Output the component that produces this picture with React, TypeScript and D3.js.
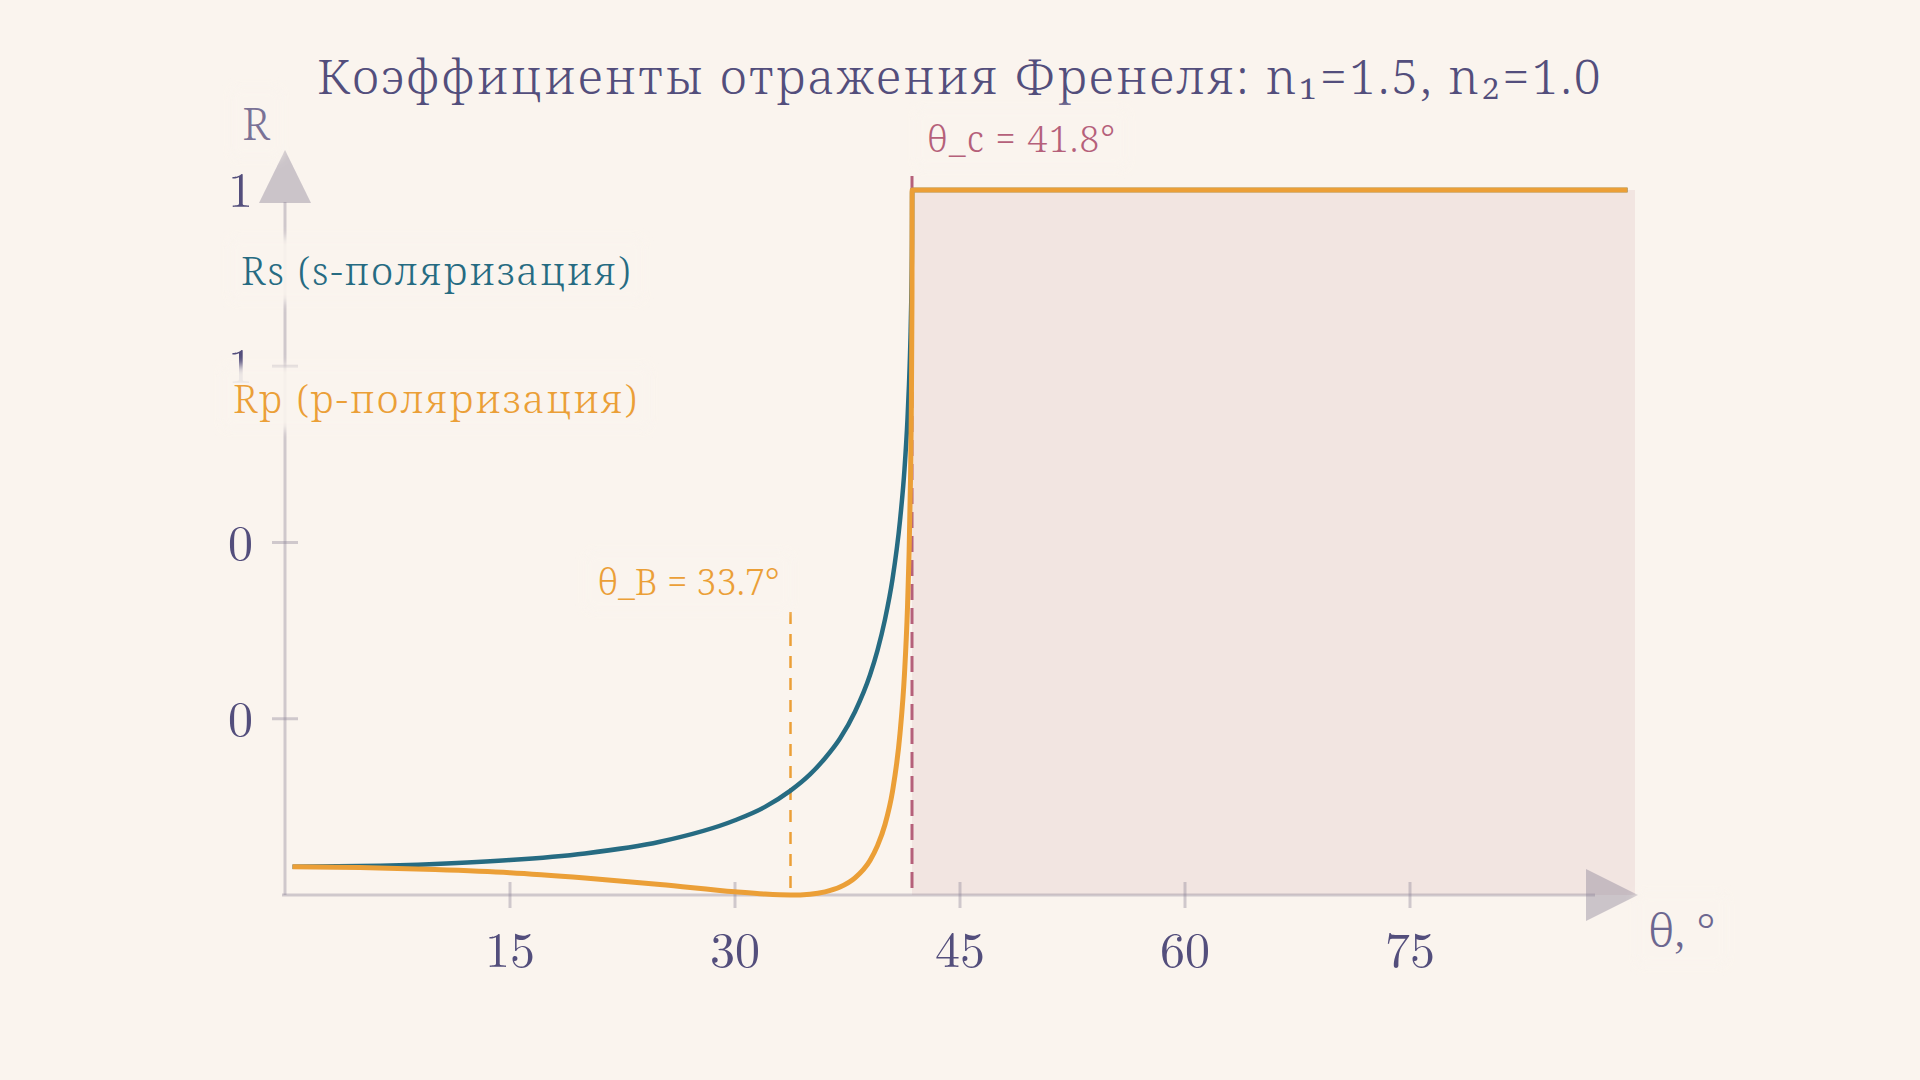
import { useLayoutEffect, useRef, useState } from 'react';
import * as d3 from 'd3';

// incidence angle, degrees
const angles = [
  0.5, 5, 10, 15, 20, 25, 30, 32, 33.7, 35, 36, 37, 38, 39, 39.5, 40, 40.5, 41,
  41.3, 41.5, 41.6, 41.7, 41.75, 41.8, 41.81, 60, 89.5,
];
// s-polarisation reflectance
const rsValues = [
  0.04, 0.041, 0.044, 0.0495, 0.059, 0.0755, 0.106, 0.125, 0.148, 0.171, 0.194,
  0.222, 0.26, 0.312, 0.347, 0.391, 0.448, 0.531, 0.604, 0.675, 0.724, 0.791,
  0.841, 0.93, 1, 1, 1,
];
// p-polarisation reflectance
const rpValues = [
  0.04, 0.039, 0.036, 0.0315, 0.024, 0.015, 0.0046, 0.0013, 0, 0.0012, 0.0045,
  0.0113, 0.0243, 0.049, 0.07, 0.1, 0.147, 0.229, 0.314, 0.408, 0.48, 0.589,
  0.676, 0.85, 1, 1, 1,
];

const xTicks = [15, 30, 45, 60, 75];
const yTicks = [0.25, 0.5, 0.75, 1];
const yTickLabels = ['0', '0', '1', '1'];

const brewsterAngle = 33.7;
const criticalAngle = 41.8;

const title = 'Коэффициенты отражения Френеля: n₁=1.5, n₂=1.0';

const BG = '#faf4ee';
const INK = '#534e7c';
const TEAL = '#266b82';
const ORANGE = '#eb9f37';
const ROSE = '#b5607a';
const SERIF = '"Noto Serif", "DejaVu Serif", serif';
const MATH = '"Latin Modern Roman", "CMU Serif", "Computer Modern", "Noto Serif", serif';

type HaloTextProps = {
  x: number;
  y: number;
  anchor?: 'start' | 'middle' | 'end';
  size: number;
  fill: string;
  spacing?: number;
  children: string;
};

const HaloText = ({ x, y, anchor = 'start', size, fill, spacing = 0, children }: HaloTextProps) => {
  const ref = useRef<SVGTextElement>(null);
  const [box, setBox] = useState<DOMRect | null>(null);

  useLayoutEffect(() => {
    if (ref.current) setBox(ref.current.getBBox());
  }, [children, x, y, size]);

  return (
    <g>
      {box && (
        <rect
          x={box.x - 12}
          y={box.y - 6}
          width={box.width + 24}
          height={box.height + 12}
          rx={8}
          fill={BG}
          opacity={0.92}
          filter="url(#soft)"
        />
      )}
      <text
        ref={ref}
        x={x}
        y={y}
        textAnchor={anchor}
        fontSize={size}
        fontWeight={350}
        letterSpacing={spacing}
        fill={fill}
        fontFamily={SERIF}
      >
        {children}
      </text>
    </g>
  );
};

export default function App() {
  const width = 1920;
  const height = 1080;

  const x = d3.scaleLinear().domain([0, 90]).range([285, 1635]);
  const y = d3.scaleLinear().domain([0, 1]).range([895, 190]);

  const line = d3
    .line<number>()
    .x((_, i) => x(angles[i]))
    .y((d) => y(d))
    .curve(d3.curveMonotoneX);

  const x0 = x(0);
  const y0 = y(0);

  return (
    <svg
      width={width}
      height={height}
      style={{ position: 'absolute', left: 0, top: 0, display: 'block' }}
    >
      <defs>
        <filter id="soft" x="-20%" y="-40%" width="140%" height="180%">
          <feGaussianBlur stdDeviation={5} />
        </filter>
      </defs>
      <rect width={width} height={height} fill={BG} />

      {/* total internal reflection zone */}
      <rect
        x={x(criticalAngle)}
        y={y(1)}
        width={x(90) - x(criticalAngle)}
        height={y0 - y(1)}
        fill={ROSE}
        opacity={0.1}
      />

      {/* axes */}
      <g stroke="#8a8096" strokeOpacity={0.38} strokeWidth={3}>
        <line x1={x0 - 3} x2={x(90) - 40} y1={y0} y2={y0} />
        <line x1={x0} x2={x0} y1={y0} y2={y(1) + 12} />
        {xTicks.map((t) => (
          <line key={t} x1={x(t)} x2={x(t)} y1={y0 - 13} y2={y0 + 13} />
        ))}
        {yTicks
          .filter((t) => t < 1)
          .map((t) => (
            <line key={t} x1={x0 - 13} x2={x0 + 13} y1={y(t)} y2={y(t)} />
          ))}
      </g>
      <g fill="#8a8096" fillOpacity={0.42}>
        <path
          d={`M${x(90) + 3},${y0} L${x(90) - 49},${y0 - 26} L${x(90) - 49},${y0 + 26} Z`}
        />
        <path
          d={`M${x0},${y(1) - 40} L${x0 - 26},${y(1) + 13} L${x0 + 26},${y(1) + 13} Z`}
        />
      </g>

      {xTicks.map((t) => (
        <text
          key={t}
          x={x(t)}
          y={967}
          textAnchor="middle"
          fontSize={50}
          fill={INK}
          fontFamily={MATH}
        >
          {t}
        </text>
      ))}
      {yTicks.map((t, i) => (
        <text
          key={t}
          x={253}
          y={y(t) + 17}
          textAnchor="end"
          fontSize={50}
          fill={INK}
          fontFamily={MATH}
        >
          {yTickLabels[i]}
        </text>
      ))}

      {/* Brewster and critical angle markers */}
      <line
        x1={x(brewsterAngle)}
        x2={x(brewsterAngle)}
        y1={612}
        y2={y0}
        stroke={ORANGE}
        strokeWidth={2.5}
        strokeDasharray="12 10"
      />
      <line
        x1={x(criticalAngle)}
        x2={x(criticalAngle)}
        y1={176}
        y2={y0}
        stroke={ROSE}
        strokeWidth={3}
        strokeDasharray="16 8"
      />

      <path d={line(rsValues) ?? ''} fill="none" stroke={TEAL} strokeWidth={4.5} />
      <path d={line(rpValues) ?? ''} fill="none" stroke={ORANGE} strokeWidth={5} />

      <text
        x={960}
        y={94}
        textAnchor="middle"
        fontSize={48}
        fontWeight={350}
        letterSpacing={2.3}
        fill={INK}
        fontFamily={SERIF}
      >
        {title}
      </text>

      <HaloText x={256} y={140} anchor="middle" size={44} fill="#7a7296">
        R
      </HaloText>
      <HaloText x={1648} y={947} size={46} fill="#6c6790">
        θ, °
      </HaloText>
      <HaloText x={241} y={285} size={39} spacing={1.8} fill={TEAL}>
        Rs (s-поляризация)
      </HaloText>
      <HaloText x={233} y={413} size={39} spacing={1.9} fill={ORANGE}>
        Rp (p-поляризация)
      </HaloText>
      <HaloText x={x(brewsterAngle) - 11} y={595} anchor="end" size={36} fill={ORANGE}>
        θ_B = 33.7°
      </HaloText>
      <HaloText x={x(criticalAngle) + 15} y={152} size={36} spacing={1.2} fill={ROSE}>
        θ_c = 41.8°
      </HaloText>
    </svg>
  );
}
